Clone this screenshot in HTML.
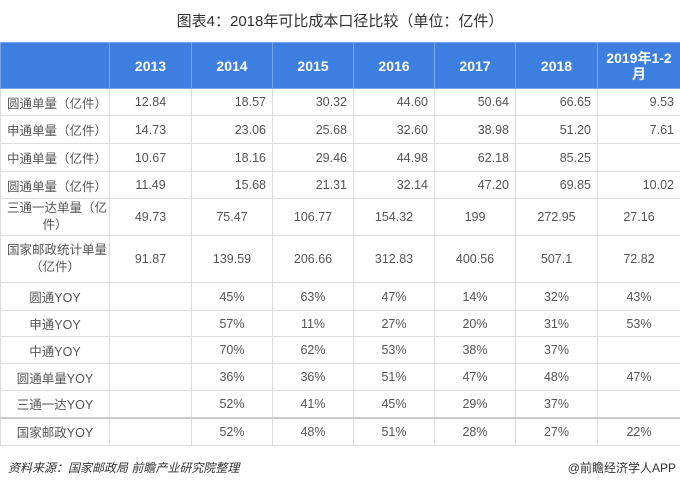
<!DOCTYPE html><html><head><meta charset="utf-8"><style>
body{margin:0;width:680px;height:486px;background:#fff;font-family:"Liberation Sans","Noto Sans CJK SC",sans-serif;position:relative;overflow:hidden}
.t{position:absolute;top:10px;left:0;width:680px;text-align:center;font-size:15px;color:#333}
table{position:absolute;left:0;top:42px;border-collapse:collapse;table-layout:fixed;width:680px}
td,th{border:1px solid #ddd;font-size:12.5px;color:#555;padding:0 6px;white-space:nowrap}
th{background:#3c7fe0;color:#fff;font-size:14px;font-weight:bold;border-color:#7aa6ea;text-align:center;line-height:16px}
td{text-align:center}
td:first-child{text-align:left}
.r td:not(:nth-child(-n+2)){text-align:right}
.w td:first-child{text-align:center;line-height:17px}
.f{position:absolute;top:459px;font-size:12px;color:#333}
</style></head><body>
<div class="t">图表4：2018年可比成本口径比较（单位：亿件）</div>
<table>
<colgroup><col style="width:109px"><col style="width:82px"><col style="width:81px"><col style="width:81px"><col style="width:81px"><col style="width:81px"><col style="width:82px"><col style="width:83px"></colgroup>
<tr style="height:46px"><th></th><th>2013</th><th>2014</th><th>2015</th><th>2016</th><th>2017</th><th>2018</th><th>2019年1-2<br>月</th></tr>
<tr class="r" style="height:27px"><td>圆通单量（亿件）</td><td>12.84</td><td>18.57</td><td>30.32</td><td>44.60</td><td>50.64</td><td>66.65</td><td>9.53</td></tr>
<tr class="r" style="height:28px"><td>申通单量（亿件）</td><td>14.73</td><td>23.06</td><td>25.68</td><td>32.60</td><td>38.98</td><td>51.20</td><td>7.61</td></tr>
<tr class="r" style="height:28px"><td>中通单量（亿件）</td><td>10.67</td><td>18.16</td><td>29.46</td><td>44.98</td><td>62.18</td><td>85.25</td><td></td></tr>
<tr class="r" style="height:27px"><td>圆通单量（亿件）</td><td>11.49</td><td>15.68</td><td>21.31</td><td>32.14</td><td>47.20</td><td>69.85</td><td>10.02</td></tr>
<tr class="w" style="height:37px"><td>三通一达单量（亿<br>件）</td><td>49.73</td><td>75.47</td><td>106.77</td><td>154.32</td><td>199</td><td>272.95</td><td>27.16</td></tr>
<tr class="w" style="height:47px"><td>国家邮政统计单量<br>（亿件）</td><td>91.87</td><td>139.59</td><td>206.66</td><td>312.83</td><td>400.56</td><td>507.1</td><td>72.82</td></tr>
<tr style="height:28px"><td style="text-align:center">圆通YOY</td><td></td><td>45%</td><td>63%</td><td>47%</td><td>14%</td><td>32%</td><td>43%</td></tr>
<tr style="height:26px"><td style="text-align:center">申通YOY</td><td></td><td>57%</td><td>11%</td><td>27%</td><td>20%</td><td>31%</td><td>53%</td></tr>
<tr style="height:27px"><td style="text-align:center">中通YOY</td><td></td><td>70%</td><td>62%</td><td>53%</td><td>38%</td><td>37%</td><td></td></tr>
<tr style="height:27px"><td style="text-align:center">圆通单量YOY</td><td></td><td>36%</td><td>36%</td><td>51%</td><td>47%</td><td>48%</td><td>47%</td></tr>
<tr style="height:27px"><td style="text-align:center">三通一达YOY</td><td></td><td>52%</td><td>41%</td><td>45%</td><td>29%</td><td>37%</td><td></td></tr>
<tr style="height:28px;border-top:2px solid #ccc"><td style="text-align:center">国家邮政YOY</td><td></td><td>52%</td><td>48%</td><td>51%</td><td>28%</td><td>27%</td><td>22%</td></tr>
</table>
<div class="f" style="left:8px;font-style:italic">资料来源：国家邮政局 前瞻产业研究院整理</div>
<div class="f" style="right:4px">@前瞻经济学人APP</div>
</body></html>
